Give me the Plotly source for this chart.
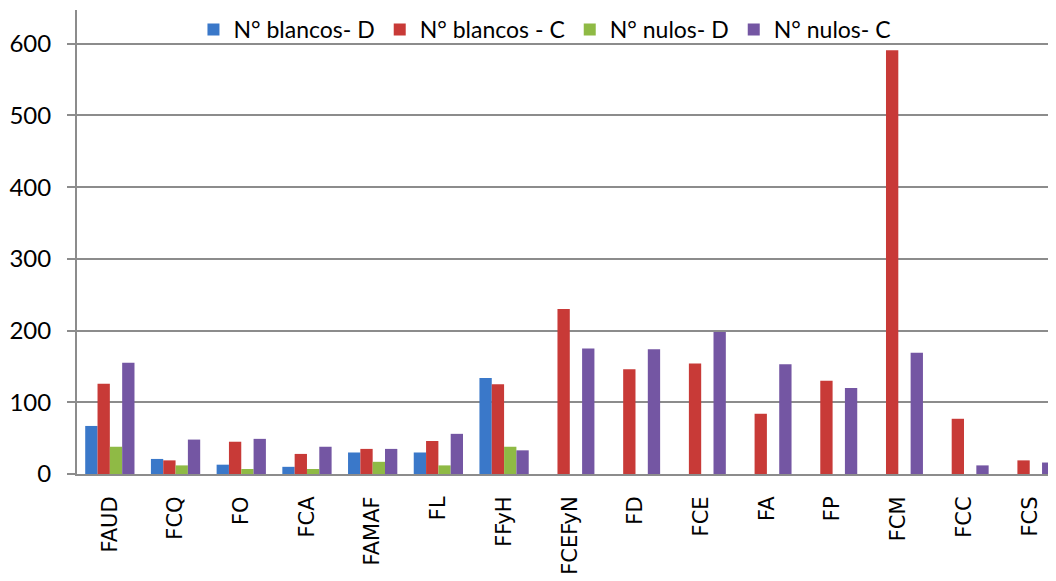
import plotly.graph_objects as go

categories = ["FAUD", "FCQ", "FO", "FCA", "FAMAF", "FL", "FFyH", "FCEFyN",
              "FD", "FCE", "FA", "FP", "FCM", "FCC", "FCS"]
blancos_d = [67, 21, 13, 10, 30, 30, 134, None, None, None, None, None, None, None, None]
blancos_c = [126, 19, 45, 28, 35, 46, 125, 230, 146, 154, 84, 130, 591, 77, 19]
nulos_d = [38, 12, 7, 7, 17, 12, 38, None, None, None, None, None, None, None, None]
nulos_c = [155, 48, 49, 38, 35, 56, 33, 175, 174, 198, 153, 120, 169, 12, 16]

series = [
    ("N° blancos- D", blancos_d, "#3a78c9"),
    ("N° blancos - C", blancos_c, "#c83a37"),
    ("N° nulos- D", nulos_d, "#8fba45"),
    ("N° nulos- C", nulos_c, "#7456a3"),
]

fig = go.Figure()
for name, vals, col in series:
    fig.add_trace(go.Bar(x=categories, y=vals, name=name,
                         marker=dict(color=col, line=dict(width=0))))

# page body has an 8px default margin, so the figure is sized to fill the rest
fig.update_layout(
    width=1048, height=573,
    margin=dict(l=69, r=0, t=2, b=107, autoexpand=False),
    paper_bgcolor="white", plot_bgcolor="white",
    barmode="group", bargap=0.25, bargroupgap=0,
    font=dict(family="Lato, Carlito, sans-serif", size=23, color="black"),
    legend=dict(orientation="h", x=0.478, xanchor="center",
                y=1.0, yref="container", yanchor="top",
                font=dict(size=23), bgcolor="rgba(255,255,255,0)",
                itemwidth=30, tracegroupgap=0),
    xaxis=dict(range=[-0.5, 14.4], tickangle=-90, showgrid=False,
               showline=True, linecolor="#8c8c8c", linewidth=2,
               tickfont=dict(family="DejaVu Sans", size=21),
               ticks="", ticklabelstandoff=12, automargin=False),
    yaxis=dict(range=[0, 647], tickvals=[0, 100, 200, 300, 400, 500, 600],
               showgrid=True, gridcolor="#8c8c8c", gridwidth=2,
               showline=True, linecolor="#8c8c8c", linewidth=2,
               ticks="outside", ticklen=8, tickcolor="#8c8c8c", tickwidth=2,
               tickfont=dict(size=24), ticklabelstandoff=11, zeroline=False,
               automargin=False),
)

fig.write_html("out.html")
